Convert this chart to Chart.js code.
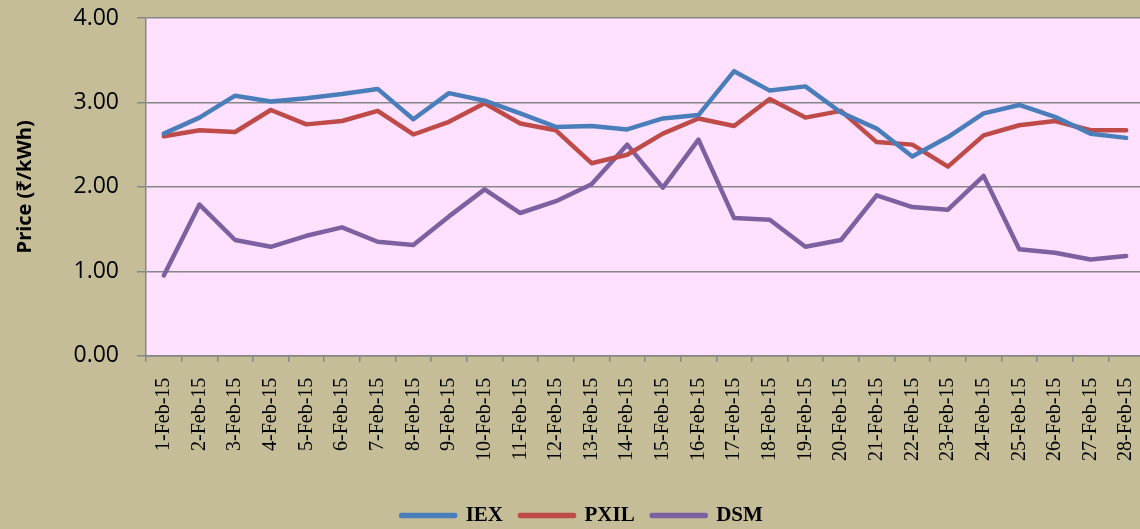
<!DOCTYPE html>
<html>
<head>
<meta charset="utf-8">
<script src="https://cdn.jsdelivr.net/npm/chart.js@4"></script>
<style>
  html, body { margin: 0; padding: 0; overflow: hidden; background: #c4bd97; }
  #wrap { width: 1148px; height: 529px; }
</style>
</head>
<body>
<div id="wrap"><canvas id="chart" width="1148" height="529"></canvas></div>
<script>
// Daily prices, February 2015 (Rs/kWh)
const days = [
  '1-Feb-15', '2-Feb-15', '3-Feb-15', '4-Feb-15', '5-Feb-15', '6-Feb-15', '7-Feb-15',
  '8-Feb-15', '9-Feb-15', '10-Feb-15', '11-Feb-15', '12-Feb-15', '13-Feb-15', '14-Feb-15',
  '15-Feb-15', '16-Feb-15', '17-Feb-15', '18-Feb-15', '19-Feb-15', '20-Feb-15', '21-Feb-15',
  '22-Feb-15', '23-Feb-15', '24-Feb-15', '25-Feb-15', '26-Feb-15', '27-Feb-15', '28-Feb-15'
];
const iex = [2.63, 2.82, 3.08, 3.01, 3.05, 3.10, 3.16, 2.80, 3.11, 3.02, 2.87, 2.71, 2.72, 2.68,
             2.81, 2.85, 3.37, 3.14, 3.19, 2.88, 2.69, 2.36, 2.59, 2.87, 2.97, 2.83, 2.63, 2.58];
const pxil = [2.60, 2.67, 2.65, 2.91, 2.74, 2.78, 2.90, 2.62, 2.77, 2.99, 2.75, 2.67, 2.28, 2.38,
              2.63, 2.81, 2.72, 3.04, 2.82, 2.90, 2.53, 2.50, 2.24, 2.61, 2.73, 2.78, 2.67, 2.67];
const dsm = [0.95, 1.79, 1.37, 1.29, 1.42, 1.52, 1.35, 1.31, 1.65, 1.97, 1.69, 1.83, 2.03, 2.50,
             1.99, 2.56, 1.63, 1.61, 1.29, 1.37, 1.90, 1.76, 1.73, 2.13, 1.26, 1.22, 1.14, 1.18];
const yTicks = [0, 1, 2, 3, 4];

// pink plot area
const plotBg = {
  id: 'plotBg',
  beforeDraw(chart) {
    const { ctx, chartArea: a } = chart;
    ctx.save();
    ctx.fillStyle = '#ffe0ff';
    ctx.fillRect(a.left, a.top, a.right - a.left, a.bottom - a.top);
    ctx.restore();
  }
};

// nudge the legend a little to the right, like the original
const legendShift = {
  id: 'legendShift',
  afterLayout(chart) {
    chart.legend.left += 10;
    chart.legend.right += 10;
  }
};

const lineStyle = { borderWidth: 4.5, pointRadius: 0, tension: 0, fill: false,
                    borderJoinStyle: 'round', borderCapStyle: 'round' };

new Chart(document.getElementById('chart').getContext('2d'), {
  type: 'line',
  data: {
    labels: days,
    datasets: [
      { label: 'IEX', data: iex, borderColor: '#4a7ebb', backgroundColor: '#4a7ebb', ...lineStyle },
      { label: 'PXIL', data: pxil, borderColor: '#be4b48', backgroundColor: '#be4b48', ...lineStyle },
      { label: 'DSM', data: dsm, borderColor: '#7d60a0', backgroundColor: '#7d60a0', ...lineStyle }
    ]
  },
  plugins: [plotBg, legendShift],
  options: {
    responsive: false,
    animation: false,
    layout: { padding: { top: 18, right: 4, bottom: -7, left: 0 } },
    scales: {
      x: {
        offset: true,
        afterFit: (s) => { s.height += 11; s.paddingLeft = 0; s.paddingRight = 0; },
        grid: { offset: true, drawOnChartArea: false, tickLength: 6, color: '#868686', lineWidth: 1.5 },
        border: { color: '#868686', width: 1.5 },
        ticks: {
          minRotation: 90, maxRotation: 90, autoSkip: false, padding: 16,
          color: '#000', font: { family: '"Liberation Serif", serif', size: 20 }
        }
      },
      y: {
        min: 0, max: 4,
        afterBuildTicks: (s) => { s.ticks = yTicks.map(v => ({ value: v })); },
        afterFit: (s) => { s.width = 146; s.paddingTop = 0; s.paddingBottom = 0; },
        grid: { color: '#868686', lineWidth: 1.5, tickLength: 9 },
        border: { color: '#868686', width: 1.5 },
        ticks: {
          padding: 18, color: '#000',
          font: { family: '"Open Sans", sans-serif', size: 23 },
          callback: (v) => Number(v).toFixed(2)
        },
        title: {
          display: true, text: 'Price (₹/kWh)', color: '#000',
          font: { family: '"Open Sans", "Noto Sans", sans-serif', size: 20, weight: 'bold' },
          padding: { top: 13, bottom: 0 }
        }
      }
    },
    plugins: {
      tooltip: { enabled: false },
      legend: {
        position: 'bottom',
        labels: {
          boxWidth: 54, boxHeight: 1, padding: 17, color: '#000',
          font: { family: '"Liberation Serif", serif', size: 21, weight: 'bold' }
        }
      }
    }
  }
});
</script>
</body>
</html>
